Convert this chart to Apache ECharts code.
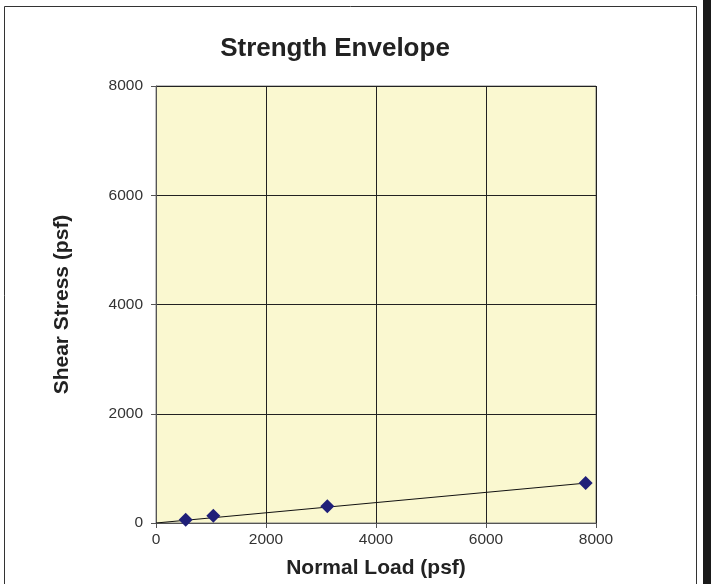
<!DOCTYPE html>
<html><head><meta charset="utf-8">
<script src="https://cdn.jsdelivr.net/npm/echarts@6/dist/echarts.min.js"></script>
<style>html,body{margin:0;padding:0;background:#fff}#c{width:711px;height:584px}</style>
</head><body><div id="c"></div>
<script>
const normalLoad = [540, 1042, 3115, 7812];
const shearStress = [60, 133, 305, 730];
const trendX = [0, 7812];
const trendY = [0, 730];
const xTicks = [0, 2000, 4000, 6000, 8000];

const chart = echarts.init(document.getElementById('c'), null, {renderer: 'canvas'});
const font = 'Liberation Sans, Arial, sans-serif';
chart.setOption({
  animation: false,
  backgroundColor: '#ffffff',
  title: {text: 'Strength Envelope', left: 330, top: 31, textAlign: 'center',
    textStyle: {fontFamily: font, fontSize: 26, fontWeight: 'bold', color: '#222'}},
  graphic: [
    {type: 'rect', shape: {x: 4.5, y: 6.5, width: 692, height: 600}, style: {fill: 'none', stroke: '#333', lineWidth: 1}, z: -1},
    {type: 'rect', shape: {x: 703, y: 0, width: 8, height: 584}, style: {fill: '#1a1a1a'}}
  ],
  grid: {left: 156, right: 115, top: 86, bottom: 60, show: true, backgroundColor: '#FAF8D0', borderColor: '#808080', borderWidth: 1},
  xAxis: {type: 'value', min: 0, max: 8000, interval: 2000,
    name: 'Normal Load (psf)', nameLocation: 'middle', nameGap: 35,
    nameTextStyle: {fontFamily: font, fontSize: 21, fontWeight: 'bold', color: '#222'},
    axisLine: {lineStyle: {color: '#555'}}, axisTick: {length: 5, lineStyle: {color: '#555'}},
    axisLabel: {fontFamily: font, fontSize: 15.5, color: '#333', margin: 9, formatter: v => String(v)},
    splitLine: {lineStyle: {color: '#222', width: 1}}},
  yAxis: {type: 'value', min: 0, max: 8000, interval: 2000,
    name: 'Shear Stress (psf)', nameLocation: 'middle', nameGap: 83, nameRotate: 90,
    nameTextStyle: {fontFamily: font, fontSize: 21, fontWeight: 'bold', color: '#222'},
    axisLine: {show: true, lineStyle: {color: '#555'}}, axisTick: {show: true, length: 5, lineStyle: {color: '#555'}},
    axisLabel: {fontFamily: font, fontSize: 15.5, color: '#333', margin: 13, formatter: v => String(v)},
    splitLine: {lineStyle: {color: '#222', width: 1}}},
  series: [
    {type: 'line', data: trendX.map((x, i) => [x, trendY[i]]), symbol: 'none',
      lineStyle: {color: '#111', width: 1}, z: 2},
    {type: 'scatter', data: normalLoad.map((x, i) => [x, shearStress[i]]), symbol: 'diamond', symbolSize: 14,
      itemStyle: {color: '#1f1f78', opacity: 1}, z: 3}
  ]
});
</script></body></html>
